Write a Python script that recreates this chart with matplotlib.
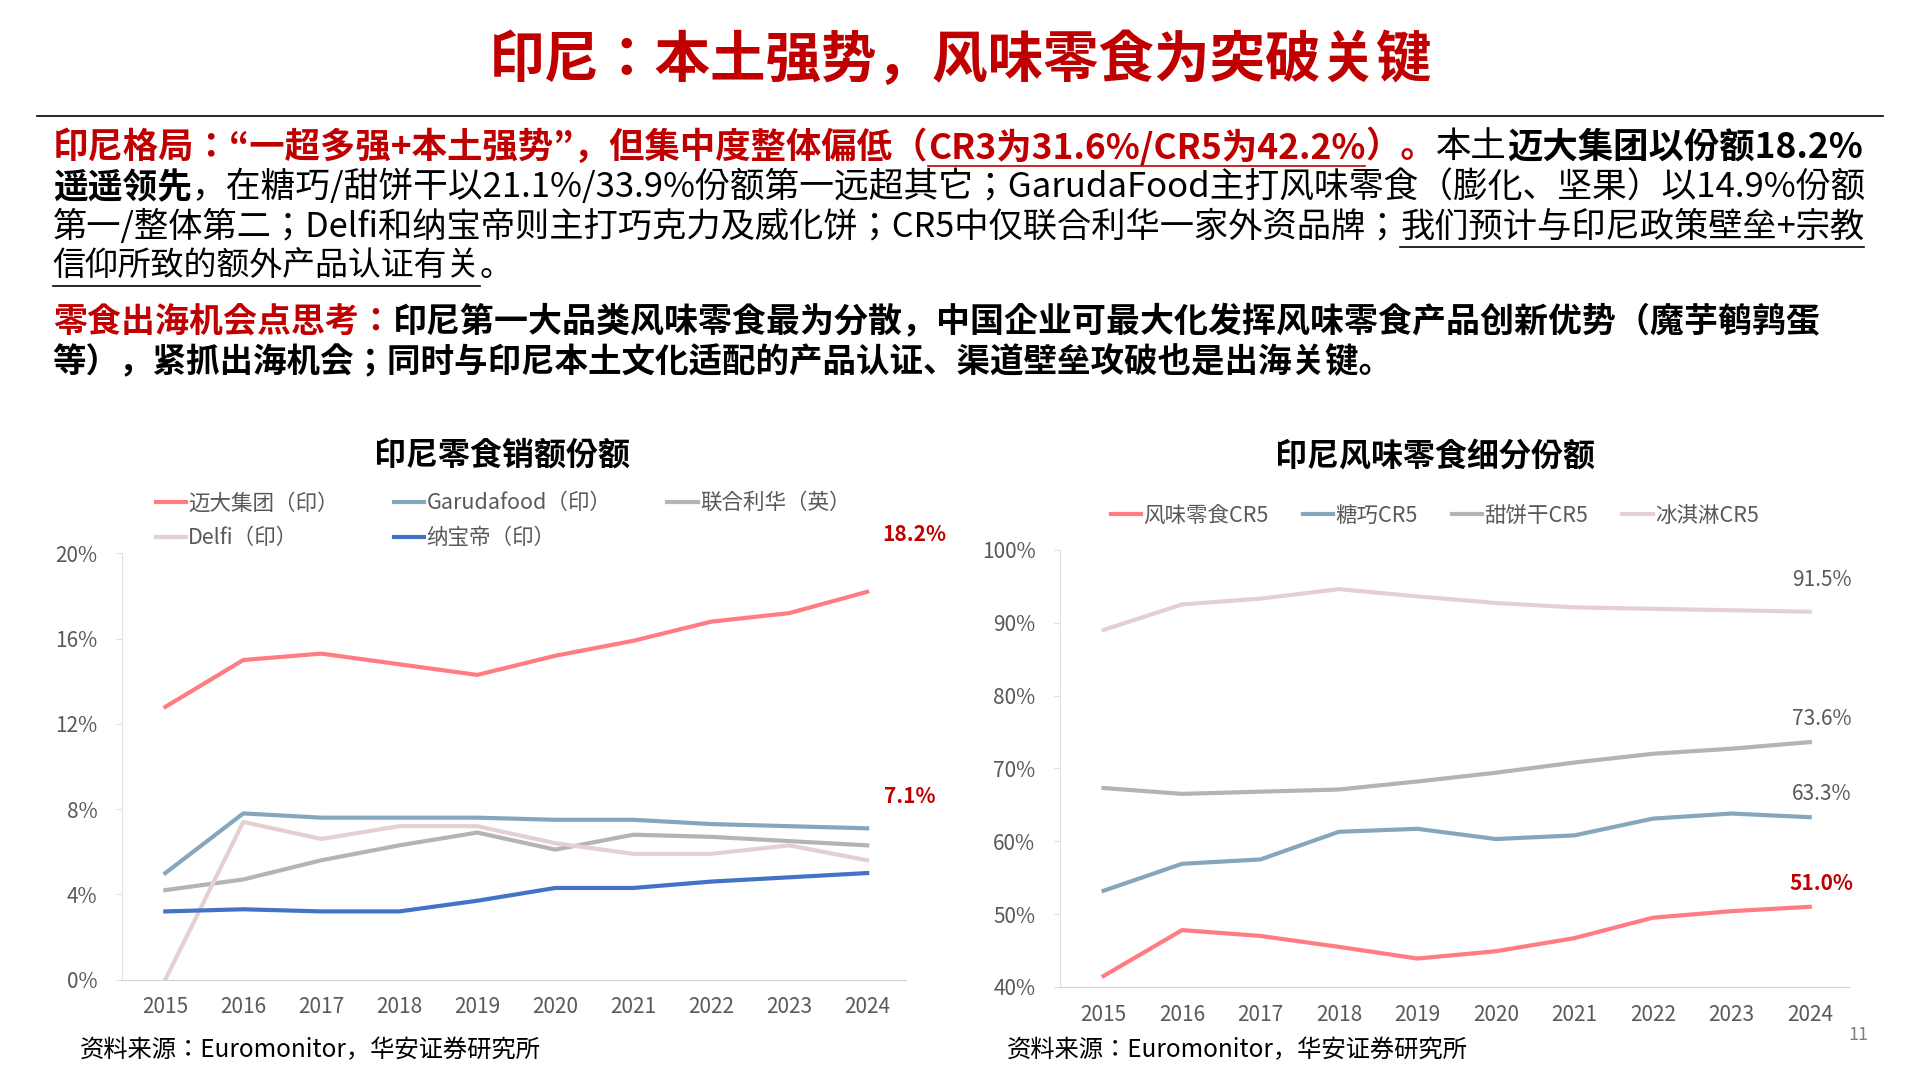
import matplotlib.pyplot as plt
from matplotlib.lines import Line2D

plt.rcParams['font.family'] = ['Noto Sans CJK JP', 'Noto Sans SC', 'DejaVu Sans']

years = [2015, 2016, 2017, 2018, 2019, 2020, 2021, 2022, 2023, 2024]

# left chart: share of snack sales (%)
mayora = [12.8, 15.0, 15.3, 14.8, 14.3, 15.2, 15.9, 16.8, 17.2, 18.2]
garuda = [5.0, 7.8, 7.6, 7.6, 7.6, 7.5, 7.5, 7.3, 7.2, 7.1]
unilever = [4.2, 4.7, 5.6, 6.3, 6.9, 6.1, 6.8, 6.7, 6.5, 6.3]
delfi = [0.0, 7.4, 6.6, 7.2, 7.2, 6.4, 5.9, 5.9, 6.3, 5.6]
nabati = [3.2, 3.3, 3.2, 3.2, 3.7, 4.3, 4.3, 4.6, 4.8, 5.0]
left_names = ['迈大集团（印）', 'Garudafood（印）', '联合利华（英）', 'Delfi（印）', '纳宝帝（印）']

# right chart: CR5 by segment (%)
savory_cr5 = [41.5, 47.8, 47.0, 45.5, 43.9, 44.9, 46.7, 49.5, 50.4, 51.0]
choco_cr5 = [53.2, 56.9, 57.5, 61.3, 61.7, 60.3, 60.8, 63.1, 63.8, 63.3]
biscuit_cr5 = [67.3, 66.5, 66.8, 67.1, 68.2, 69.4, 70.8, 72.0, 72.7, 73.6]
icecream_cr5 = [89.0, 92.5, 93.3, 94.6, 93.6, 92.7, 92.1, 91.9, 91.7, 91.5]
right_names = ['风味零食CR5', '糖巧CR5', '甜饼干CR5', '冰淇淋CR5']

RED = '#C00000'
C_RED = '#FF7C80'
C_BLUE = '#85A7BD'
C_GRAY = '#B4B4B4'
C_PINK = '#E6CFD0'
C_DBLUE = '#4472C4'
TICK = '#595959'

W, H = 1568, 882  # reference pixel frame
fig = plt.figure(figsize=(19.2, 10.8), dpi=100)
fx = lambda x: x / W
fy = lambda y: 1 - y / H

fig.text(0.5, fy(50), '印尼：本土强势，风味零食为突破关键', ha='center', va='center',
         fontsize=40, fontweight='bold', color=RED)
fig.add_artist(Line2D([fx(30), fx(1538)], [fy(95), fy(95)], color='black', lw=1.2))

renderer = fig.canvas.get_renderer()


def rich_line(y, segs, x0=43, x1=None, size=19.5):
    def draw(sz):
        x = fx(x0)
        arts = []
        for s in segs:
            txt, col, bold = s[0], s[1], s[2]
            ul = len(s) > 3 and s[3]
            t = fig.text(x, fy(y), txt, color=col, fontsize=sz,
                         fontweight='bold' if bold else 'normal', va='center', ha='left')
            bb = t.get_window_extent(renderer).transformed(fig.transFigure.inverted())
            arts.append(t)
            if ul:
                yl = fy(y) - 0.018
                arts.append(fig.add_artist(Line2D([bb.x0, bb.x1], [yl, yl], color=col, lw=1.2)))
            x = bb.x1
        return arts, x
    arts, xe = draw(size)
    if x1 is not None:
        for a in arts:
            a.remove()
        draw(size * (fx(x1) - fx(x0)) / (xe - fx(x0)))


K = 'black'
rich_line(120, [('印尼格局：“一超多强+本土强势”，但集中度整体偏低（', RED, True),
                ('CR3为31.6%/CR5为42.2%', RED, True, True), ('）。', RED, True),
                ('本土', K, False), ('迈大集团以份额18.2%', K, True)], x1=1525)
rich_line(153, [('遥遥领先', K, True),
                ('，在糖巧/甜饼干以21.1%/33.9%份额第一远超其它；GarudaFood主打风味零食（膨化、坚果）以14.9%份额', K, False)], x1=1525)
rich_line(186, [('第一/整体第二；Delfi和纳宝帝则主打巧克力及威化饼；CR5中仅联合利华一家外资品牌；', K, False),
                ('我们预计与印尼政策壁垒+宗教', K, False, True)], x1=1525)
rich_line(218, [('信仰所致的额外产品认证有关', K, False, True), ('。', K, False)], x1=420)
rich_line(263, [('零食出海机会点思考：', RED, True),
                ('印尼第一大品类风味零食最为分散，中国企业可最大化发挥风味零食产品创新优势（魔芋鹌鹑蛋', K, True)], x1=1487)
rich_line(296, [('等），紧抓出海机会；同时与印尼本土文化适配的产品认证、渠道壁垒攻破也是出海关键。', K, True)], x1=1140)

FS = 15


def style_axes(ax):
    for sp in ['top', 'right']:
        ax.spines[sp].set_visible(False)
    ax.spines['left'].set_color('#E0E0E0')
    ax.spines['bottom'].set_color('#D0D0D0')
    ax.tick_params(colors=TICK, labelsize=FS, length=0)
    ax.tick_params(axis='y', length=4, color='#E0E0E0', pad=14)
    ax.tick_params(axis='x', pad=12)
    ax.set_xticks(years)
    ax.set_xticklabels([str(y) for y in years])
    ax.set_xlim(2015 - 0.55, 2024 + 0.5)


# left chart
axL = fig.add_axes([fx(100), fy(800), fx(740 - 100), fy(452) - fy(800)])
for vals, col, name in zip([mayora, garuda, unilever, delfi, nabati],
                           [C_RED, C_BLUE, C_GRAY, C_PINK, C_DBLUE], left_names):
    axL.plot(years, vals, color=col, lw=3, label=name)
style_axes(axL)
axL.set_ylim(0, 20)
axL.set_yticks([0, 4, 8, 12, 16, 20])
axL.set_yticklabels(['0%', '4%', '8%', '12%', '16%', '20%'])
axL.text(2024.6, mayora[-1] + 2.4, '18.2%', color=RED, fontsize=FS, fontweight='bold', ha='center')
axL.text(2024.55, garuda[-1] + 1.2, '7.1%', color=RED, fontsize=FS, fontweight='bold', ha='center')
fig.text(fx(410), fy(372), '印尼零食销额份额', ha='center', va='center', fontsize=23, fontweight='bold')
hL = axL.get_legend_handles_labels()
order = [0, 3, 1, 4, 2]
fig.legend([hL[0][i] for i in order], [hL[1][i] for i in order], ncol=3,
           loc='upper left', bbox_to_anchor=(fx(120), fy(395)), frameon=False,
           fontsize=15.5, labelcolor=TICK, handlelength=1.4, handletextpad=0.1,
           columnspacing=2.6, borderaxespad=0, labelspacing=0.6)

# right chart
axR = fig.add_axes([fx(866), fy(806), fx(1510 - 866), fy(449) - fy(806)])
for vals, col, name in zip([savory_cr5, choco_cr5, biscuit_cr5, icecream_cr5],
                           [C_RED, C_BLUE, C_GRAY, C_PINK], right_names):
    axR.plot(years, vals, color=col, lw=3, label=name)
style_axes(axR)
axR.set_ylim(40, 100)
axR.set_yticks(range(40, 101, 10))
axR.set_yticklabels([f'{v}%' for v in range(40, 101, 10)])
for vals, col, w, dy in [(icecream_cr5, TICK, 'normal', 3.5), (biscuit_cr5, TICK, 'normal', 2.3),
                         (choco_cr5, TICK, 'normal', 2.3), (savory_cr5, RED, 'bold', 2.3)]:
    axR.text(2024.15, vals[-1] + dy, f'{vals[-1]:.1f}%', color=col, fontsize=FS, fontweight=w, ha='center')
fig.text(fx(1172), fy(373), '印尼风味零食细分份额', ha='center', va='center', fontsize=23, fontweight='bold')
axR.legend(loc='upper left', bbox_to_anchor=(fx(900), fy(405)), bbox_transform=fig.transFigure,
           ncol=4, frameon=False, fontsize=15.5, labelcolor=TICK, handlelength=1.4,
           handletextpad=0.1, columnspacing=1.6, borderaxespad=0)

src = '资料来源：Euromonitor，华安证券研究所'
fig.text(fx(65), fy(858), src, fontsize=17.5, style='italic', va='center')
fig.text(fx(822), fy(858), src, fontsize=17.5, style='italic', va='center')
fig.text(fx(1518), fy(845), '11', fontsize=13, color='#808080', ha='center', va='center')

fig.savefig('out.png', dpi=100)
